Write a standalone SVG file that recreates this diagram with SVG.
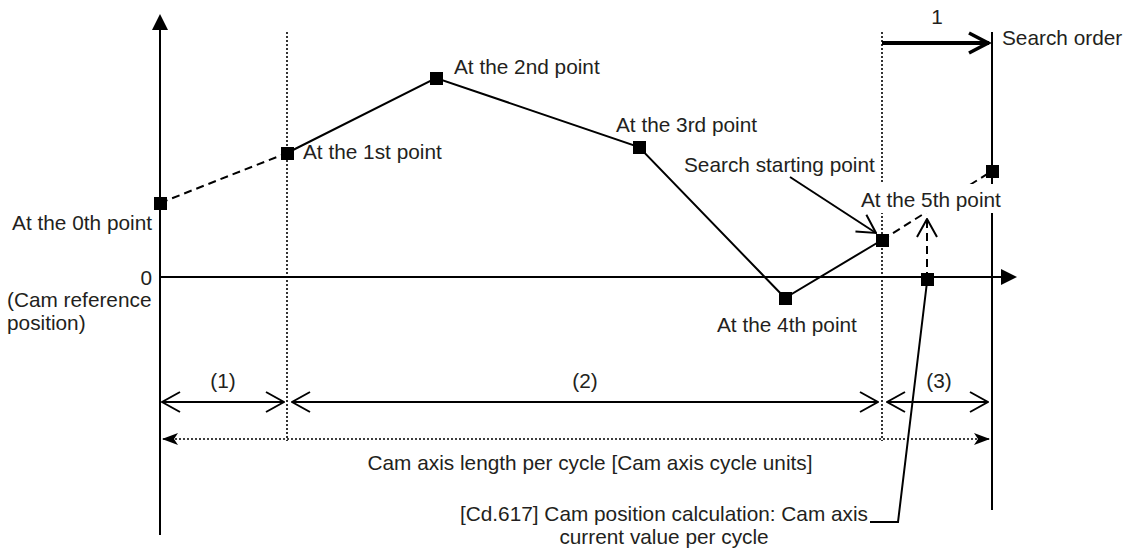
<svg xmlns="http://www.w3.org/2000/svg" width="1126" height="551" viewBox="0 0 1126 551">
<style>
text{font-family:"Liberation Sans",Arial,sans-serif;font-size:20.8px;fill:#231f20}
.ax{stroke:#000;stroke-width:2;fill:none}
.ln{stroke:#000;stroke-width:2;fill:none}
.ds{stroke:#000;stroke-width:2;fill:none;stroke-dasharray:8 5}
.dt{stroke:#000;stroke-width:1.6;fill:none;stroke-dasharray:2 2}
.pt{fill:#000}
.mid{text-anchor:middle}
.end{text-anchor:end}
</style>
<defs>
<marker id="open" viewBox="0 0 20 22" refX="19" refY="11" markerWidth="20" markerHeight="22" markerUnits="userSpaceOnUse" orient="auto-start-reverse">
<path d="M1,1 L19,11 L1,21" fill="none" stroke="#000" stroke-width="2"/>
</marker>
<marker id="openBig" viewBox="0 0 24 24" refX="22" refY="12" markerWidth="24" markerHeight="24" markerUnits="userSpaceOnUse" orient="auto">
<path d="M2,2 L21,12 L2,22" fill="none" stroke="#000" stroke-width="3.5"/>
</marker>
<marker id="barb" viewBox="0 0 16 12" refX="15" refY="6" markerWidth="16" markerHeight="12" markerUnits="userSpaceOnUse" orient="auto-start-reverse">
<path d="M0,0 L16,6 L0,12 L4,6 Z" fill="#000"/>
</marker>
<marker id="tri" viewBox="0 0 16 16" refX="1" refY="8" markerWidth="16" markerHeight="16" markerUnits="userSpaceOnUse" orient="auto">
<path d="M0,0 L16,8 L0,16 Z" fill="#000"/>
</marker>
</defs>
<rect width="1126" height="551" fill="#fff"/>

<g id="axes">
<line class="ax" x1="160" y1="535" x2="160" y2="29" marker-end="url(#tri)"/>
<line class="ax" x1="160" y1="277" x2="1002" y2="277" marker-end="url(#tri)"/>
<line class="ax" x1="992" y1="32" x2="992" y2="510"/>
<line class="dt" x1="287" y1="32" x2="287" y2="441"/>
<line class="dt" x1="882" y1="32" x2="882" y2="441"/>
</g>

<g id="connectors">
<line class="ds" x1="160" y1="203" x2="287" y2="153"/>
<polyline class="ln" points="287,153 436,78 639,147 785,298 882,240"/>
<line class="ds" x1="882" y1="240" x2="992" y2="171"/>
<line class="ds" x1="927" y1="280" x2="927" y2="219" marker-end="url(#open)"/>
<line class="ln" x1="790" y1="177" x2="876" y2="233" marker-end="url(#open)"/>
<polyline class="ln" points="870,522 898,522 927,282"/>
<line x1="882" y1="43" x2="989" y2="43" stroke="#000" stroke-width="4" marker-end="url(#openBig)"/>
<line class="ln" x1="162" y1="402" x2="284" y2="402" marker-start="url(#open)" marker-end="url(#open)"/>
<line class="ln" x1="292" y1="402" x2="878" y2="402" marker-start="url(#open)" marker-end="url(#open)"/>
<line class="ln" x1="887" y1="402" x2="988" y2="402" marker-start="url(#open)" marker-end="url(#open)"/>
<line class="dt" x1="163" y1="439" x2="989" y2="439" marker-start="url(#barb)" marker-end="url(#barb)"/>
</g>

<g id="point0"><rect class="pt" x="154" y="197" width="13" height="13"/><text class="end" x="152" y="230">At the 0th point</text></g>
<g id="point1"><rect class="pt" x="281" y="147" width="13" height="13"/><text x="303" y="159">At the 1st point</text></g>
<g id="point2"><rect class="pt" x="430" y="72" width="13" height="13"/><text x="454" y="74">At the 2nd point</text></g>
<g id="point3"><rect class="pt" x="633" y="141" width="13" height="13"/><text x="616" y="132">At the 3rd point</text></g>
<g id="point4"><rect class="pt" x="779" y="292" width="13" height="13"/><text x="717" y="332">At the 4th point</text></g>
<g id="point5"><rect class="pt" x="876" y="234" width="13" height="13"/><text x="684" y="172">Search starting point</text></g>
<g id="point5label"><rect x="858" y="184" width="148" height="29" fill="#fff"/><text x="861" y="207">At the 5th point</text></g>
<g id="point6"><rect class="pt" x="986" y="165" width="13" height="13"/></g>
<g id="current"><rect class="pt" x="921" y="273" width="13" height="13"/></g>

<g id="origin-labels">
<text class="end" x="152" y="285">0</text>
<text x="7" y="307">(Cam reference</text>
<text x="7" y="330">position)</text>
</g>
<g id="search-order"><text class="mid" x="937" y="24">1</text><text x="1002" y="45">Search order</text></g>
<g id="dims">
<text class="mid" x="223" y="388">(1)</text>
<text class="mid" x="585" y="388">(2)</text>
<text class="mid" x="939" y="388">(3)</text>
<text class="mid" x="590" y="470">Cam axis length per cycle [Cam axis cycle units]</text>
</g>
<g id="cd617">
<text class="mid" x="664" y="521">[Cd.617] Cam position calculation: Cam axis</text>
<text class="mid" x="664" y="544">current value per cycle</text>
</g>
</svg>
